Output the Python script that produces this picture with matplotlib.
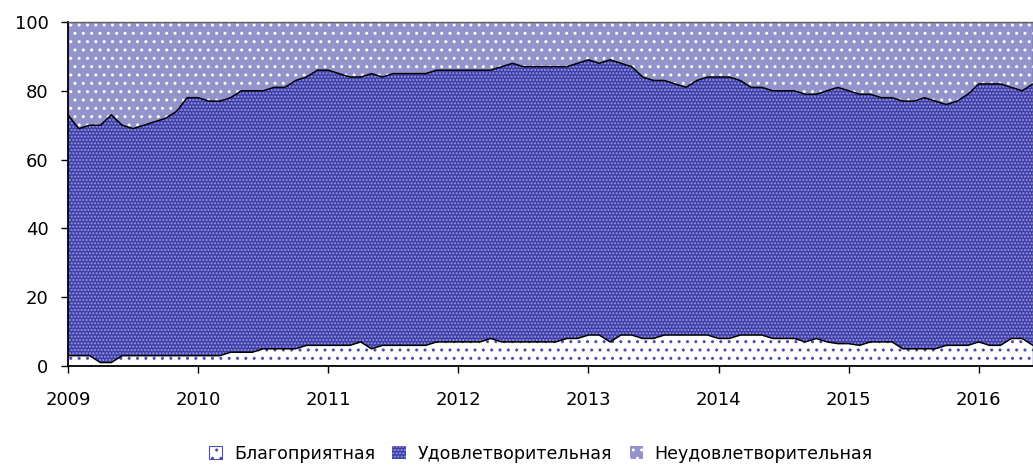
import numpy as np
import matplotlib
matplotlib.use('Agg')
import matplotlib.pyplot as plt

# monthly shares, Jan 2009 .. Jun 2016 (percent)
blag = [3, 3, 3, 1, 1, 3, 3, 3, 3, 3, 3, 3, 3, 3, 3, 4, 4, 4, 5, 5, 5, 5, 6, 6, 6, 6, 6,
        7, 5, 6, 6, 6, 6, 6, 7, 7, 7, 7, 7, 8, 7, 7, 7, 7, 7, 7, 8, 8, 9, 9, 7, 9, 9, 8, 8, 9, 9, 9,
        9, 9, 8, 8, 9, 9, 9, 8, 8, 8, 7, 8, 7, 6.5, 6.5, 6, 7, 7, 7, 5, 5, 5, 5, 6, 6, 6, 7, 6, 6, 8, 8, 6]
udovl = [70, 66, 67, 69, 72, 67, 66, 67, 68, 69, 71, 75, 75, 74, 74, 74, 76, 76, 75, 76, 76, 78, 78, 80, 80, 79, 78,
         77, 80, 78, 79, 79, 79, 79, 79, 79, 79, 79, 79, 78, 80, 81, 80, 80, 80, 80, 79, 80, 80, 79, 82, 79, 78, 76, 75, 74, 73, 72,
         74, 75, 76, 76, 74, 72, 72, 72, 72, 72, 72, 71, 73, 74.5, 73.5, 73, 72, 71, 71, 72, 72, 73, 72, 70, 71, 73, 75, 76, 76, 73, 72, 76]
neudovl = [27, 31, 30, 30, 27, 30, 31, 30, 29, 28, 26, 22, 22, 23, 23, 22, 20, 20, 20, 19, 19, 17, 16, 14, 14, 15, 16,
           16, 15, 16, 15, 15, 15, 15, 14, 14, 14, 14, 14, 14, 13, 12, 13, 13, 13, 13, 13, 12, 11, 12, 11, 12, 13, 16, 17, 17, 18, 19,
           17, 16, 16, 16, 17, 19, 19, 20, 20, 20, 21, 21, 20, 19, 20, 21, 21, 22, 22, 23, 23, 22, 23, 24, 23, 21, 18, 18, 18, 19, 20, 18]
years = ['2009', '2010', '2011', '2012', '2013', '2014', '2015', '2016']
names = ['Благоприятная', 'Удовлетворительная', 'Неудовлетворительная']

plt.rcParams['font.family'] = ['DejaVu Sans']
plt.rcParams['hatch.linewidth'] = 1.0

x = np.arange(len(blag))
fig = plt.figure(figsize=(10.33, 4.66), dpi=100)
ax = fig.add_axes([0.0658, 0.2146, 0.9342, 0.7382])

faces = ['white', '#3e3eaa', '#9494cc']
hatch_cols = ['#4c4cb4', '#9a9ade', 'white']
hatches = ['..', '.....', '..']
polys = ax.stackplot(x, blag, udovl, neudovl, colors=faces, labels=names, linewidth=0)
for p, hc, h in zip(polys, hatch_cols, hatches):
    p.set_hatch(h)
    p.set_edgecolor(hc)
    p.set_linewidth(0)

cum = np.cumsum([blag, udovl], axis=0)
for c in cum:
    ax.plot(x, c, color='black', lw=1.1)

ax.set_xlim(0, len(blag) - 1)
ax.set_ylim(0, 100)
ax.set_yticks(range(0, 101, 20))
ax.set_xticks(np.arange(len(years)) * 12)
ax.set_xticklabels(years)
ax.tick_params(axis='both', labelsize=13, length=5, width=1, direction='out')
ax.tick_params(axis='y', pad=9)
ax.tick_params(axis='x', pad=13)
for s in ['left', 'bottom']:
    ax.spines[s].set_linewidth(1.3)
for s in ['top', 'right']:
    ax.spines[s].set_color('#606060')
    ax.spines[s].set_linewidth(1)

leg = ax.legend(loc='center', bbox_to_anchor=(0.49, -0.255), ncol=3, frameon=False,
                fontsize=12.5, handlelength=0.75, handleheight=0.75, handletextpad=0.7, columnspacing=1.0)
leg.legend_handles[0].set_linewidth(0.8)

fig.savefig('out.png', dpi=100)
